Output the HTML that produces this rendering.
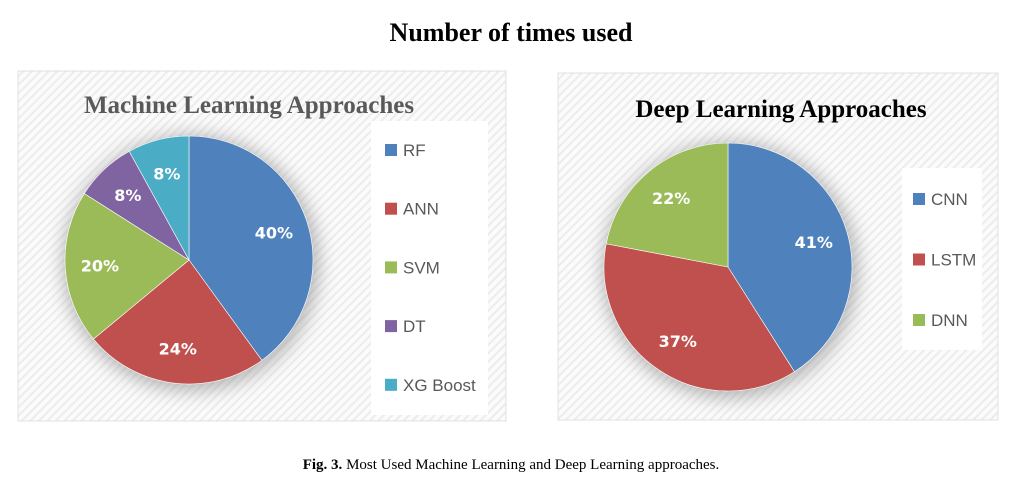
<!DOCTYPE html>
<html><head><meta charset="utf-8"><style>
body{margin:0;background:#fff;width:1023px;height:497px;overflow:hidden;font-family:"Liberation Serif",serif}
</style></head><body>
<svg width="1023" height="497" viewBox="0 0 1023 497" xmlns="http://www.w3.org/2000/svg">
<defs>
<pattern id="hatch" width="6" height="6" patternUnits="userSpaceOnUse" patternTransform="rotate(45)">
<rect width="6" height="6" fill="#fbfbfb"/><rect width="2" height="6" fill="#ececec"/></pattern>
<filter id="sh" x="-30%" y="-30%" width="160%" height="160%"><feGaussianBlur stdDeviation="9"/></filter>
</defs>
<text x="511" y="41" text-anchor="middle" font-family="Liberation Serif" font-weight="bold" font-size="26" fill="#000">Number of times used</text>
<g id="left">
<rect x="18" y="71" width="488" height="350" fill="url(#hatch)" stroke="#e0e0e0"/>
<text x="249" y="113" text-anchor="middle" font-weight="bold" font-size="25" fill="#595959">Machine Learning Approaches</text>
<rect x="371" y="121" width="117" height="294" fill="#fff"/>
</g>
<g id="right">
<rect x="558" y="73" width="440" height="347" fill="url(#hatch)" stroke="#e0e0e0"/>
<text x="781" y="117" text-anchor="middle" font-weight="bold" font-size="25" fill="#000">Deep Learning Approaches</text>
<rect x="902" y="168" width="80" height="182" fill="#fff"/>
</g>
<text x="511" y="469" text-anchor="middle" font-size="15" fill="#000"><tspan font-weight="bold">Fig. 3.</tspan>  Most Used Machine Learning and Deep Learning approaches.</text>
</svg>
<script>
const mlCategories=["RF","ANN","SVM","DT","XG Boost"];
const mlValues=[40,24,20,8,8];
const dlCategories=["CNN","LSTM","DNN"];
const dlValues=[41,37,22];
const colors=["#4f81bd","#c0504d","#9bbb59","#8064a2","#4bacc6"];
const NS="http://www.w3.org/2000/svg";
function mk(tag,attrs,parent){const e=document.createElementNS(NS,tag);for(const k in attrs)e.setAttribute(k,attrs[k]);parent.appendChild(e);return e;}
function drawPie(gid,cats,vals,cx,cy,r,legX,legY0,legStep,prefix){
  const g=document.getElementById(gid);
  const sh=mk('circle',{cx:cx+2,cy:cy+3,r:r+4,fill:'#888',filter:'url(#sh)',opacity:0.6},g);
  
  
  const total=vals.reduce((a,b)=>a+b,0);
  let a0=0;
  vals.forEach((v,i)=>{
    const a1=a0+v/total*2*Math.PI;
    const x0=cx+r*Math.sin(a0),y0=cy-r*Math.cos(a0),x1=cx+r*Math.sin(a1),y1=cy-r*Math.cos(a1);
    const large=(a1-a0)>Math.PI?1:0;
    const p=mk('path',{d:`M${cx},${cy}L${x0},${y0}A${r},${r} 0 ${large} 1 ${x1},${y1}Z`,fill:colors[i],stroke:'#fff','stroke-width':0.6},g);
    
    
    const am=(a0+a1)/2,lr=r*0.72;
    const t=mk('text',{x:cx+lr*Math.sin(am),y:cy-lr*Math.cos(am)+6,'text-anchor':'middle','font-family':'DejaVu Sans, Liberation Sans, sans-serif','font-weight':'bold','font-size':16,fill:'#fff'},g);
    t.textContent=v+'%';
    
    
    a0=a1;
  });
  cats.forEach((c,i)=>{
    const y=legY0+i*legStep;
    const s=mk('rect',{x:legX,y:y-6,width:12,height:12,fill:colors[i]},g);
    
    
    const t=mk('text',{x:legX+18,y:y+6,'font-family':'Liberation Sans, sans-serif','font-size':17,fill:'#595959'},g);
    t.textContent=c;
    
    
  });
}
drawPie('left',mlCategories,mlValues,189,260,124,385,150,58.7,'ml');
drawPie('right',dlCategories,dlValues,728,267,124,913,199,60.5,'dl');
</script>
</body></html>
